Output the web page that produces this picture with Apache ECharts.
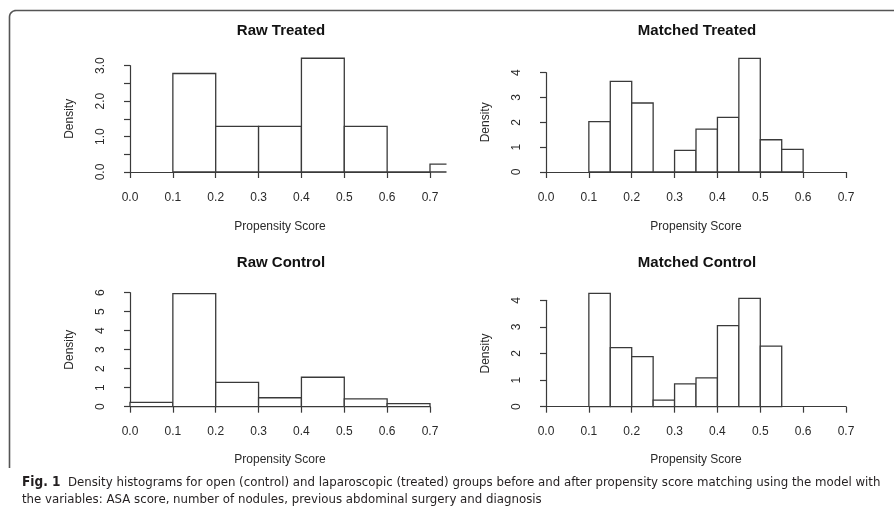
<!DOCTYPE html>
<html>
<head>
<meta charset="utf-8">
<script src="https://cdn.jsdelivr.net/npm/echarts@6/dist/echarts.min.js"></script>
<style>
html,body{margin:0;padding:0;background:#fff;}
#chart{width:894px;height:508px;}
</style>
</head>
<body>
<div id="chart"></div>
<script>
// ---- data ----
const panelTitles = ['Raw Treated', 'Matched Treated', 'Raw Control', 'Matched Control'];
const xAxisName = 'Propensity Score';
const yAxisName = 'Density';
const xTickLabels = ['0.0', '0.1', '0.2', '0.3', '0.4', '0.5', '0.6', '0.7'];

const rawTreatedBreaks = [0.1, 0.2, 0.3, 0.4, 0.5, 0.6, 0.7, 0.8];
const rawTreatedDensity = [2.78, 1.29, 1.29, 3.21, 1.29, 0, 0.22];

const matchedTreatedBreaks = [0.10, 0.15, 0.20, 0.25, 0.30, 0.35, 0.40, 0.45, 0.50, 0.55, 0.60];
const matchedTreatedDensity = [2.03, 3.65, 2.78, 0, 0.87, 1.73, 2.20, 4.58, 1.30, 0.91];

const rawControlBreaks = [0.0, 0.1, 0.2, 0.3, 0.4, 0.5, 0.6, 0.7];
const rawControlDensity = [0.23, 5.95, 1.28, 0.47, 1.55, 0.41, 0.16];

const matchedControlBreaks = [0.10, 0.15, 0.20, 0.25, 0.30, 0.35, 0.40, 0.45, 0.50, 0.55];
const matchedControlDensity = [4.26, 2.22, 1.88, 0.25, 0.86, 1.08, 3.05, 4.07, 2.28];

const rawTreatedYTicks = ['0.0', '', '1.0', '', '2.0', '', '3.0'];
const matchedTreatedYTicks = ['0', '1', '2', '3', '4'];
const rawControlYTicks = ['0', '1', '2', '3', '4', '5', '6'];
const matchedControlYTicks = ['0', '1', '2', '3', '4'];

const captionBold = 'Fig. 1';
const captionLine1 = 'Density histograms for open (control) and laparoscopic (treated) groups before and after propensity score matching using the model with';
const captionLine2 = 'the variables: ASA score, number of nodules, previous abdominal surgery and diagnosis';

// ---- build ----
const panels = [
  {breaks: rawTreatedBreaks, dens: rawTreatedDensity, yTicks: rawTreatedYTicks, yStep: 0.5,
   grid: {left: 130, top: 65.7, width: 300, height: 106.3}, titleY: 30.5, xOff: 4.5, lblMargin: 15, nameGap: 44},
  {breaks: matchedTreatedBreaks, dens: matchedTreatedDensity, yTicks: matchedTreatedYTicks, yStep: 1,
   grid: {left: 546, top: 72.7, width: 300, height: 99.3}, titleY: 30.5, xOff: 4.5, lblMargin: 15, nameGap: 44},
  {breaks: rawControlBreaks, dens: rawControlDensity, yTicks: rawControlYTicks, yStep: 1,
   grid: {left: 130, top: 292.7, width: 300, height: 114}, titleY: 262.5, xOff: 5.2, lblMargin: 14, nameGap: 41.5},
  {breaks: matchedControlBreaks, dens: matchedControlDensity, yTicks: matchedControlYTicks, yStep: 1,
   grid: {left: 546, top: 300.3, width: 300, height: 106.4}, titleY: 262.5, xOff: 5.2, lblMargin: 14, nameGap: 41.5}
];

const FONT = '"Liberation Sans", Arial, Helvetica, sans-serif';
const LINE = '#3a3a3a';
const TEXT = '#2a2a2a';

function renderBar(params, api) {
  const start = api.value(0), end = api.value(1), d = api.value(2);
  const p0 = api.coord([start, 0]);
  const p1 = api.coord([end, d]);
  const cs = params.coordSys;
  const clipX = cs.x + cs.width * 1.055;
  const left = p0[0], bottom = p0[1], top = p1[1];
  const clipped = p1[0] > clipX;
  const right = Math.min(p1[0], clipX);
  const pts = clipped
    ? [[right, bottom], [left, bottom], [left, top], [right, top]]
    : [[left, bottom], [left, top], [right, top], [right, bottom], [left, bottom]];
  return {
    type: 'group',
    children: [
      {type: 'rect', shape: {x: left, y: top, width: right - left, height: bottom - top},
       style: {fill: '#fff'}},
      {type: 'polyline', shape: {points: pts},
       style: {fill: null, stroke: LINE, lineWidth: 1.3}}
    ]
  };
}

const option = {
  backgroundColor: '#fff',
  animation: false,
  grid: [],
  xAxis: [],
  yAxis: [],
  series: [],
  graphic: []
};

panels.forEach((p, i) => {
  option.grid.push(Object.assign({containLabel: false}, p.grid));
  option.graphic.push({
    type: 'text', silent: true,
    x: p.grid.left + p.grid.width / 2 + 1, y: p.titleY,
    style: {text: panelTitles[i], align: 'center', verticalAlign: 'middle',
      font: 'bold 15px ' + FONT, fill: '#111'}
  });
  const ytop = (p.yTicks.length - 1) * p.yStep;
  option.xAxis.push({
    type: 'value', gridIndex: i, min: 0, max: 0.7, interval: 0.1,
    offset: p.xOff,
    splitLine: {show: false},
    axisLine: {show: true, lineStyle: {color: LINE, width: 1.2}},
    axisTick: {show: true, length: 6, lineStyle: {color: LINE, width: 1.2}},
    axisLabel: {show: true, margin: p.lblMargin, fontFamily: FONT, fontSize: 12, color: TEXT,
      formatter: v => xTickLabels[Math.round(v * 10)] || ''},
    name: xAxisName, nameLocation: 'middle', nameGap: p.nameGap,
    nameTextStyle: {fontFamily: FONT, fontSize: 12, color: TEXT}
  });
  option.yAxis.push({
    type: 'value', gridIndex: i, min: 0, max: ytop, interval: p.yStep,
    offset: 13.5,
    splitLine: {show: false},
    axisLine: {show: true, lineStyle: {color: LINE, width: 1.2}},
    axisTick: {show: true, length: 6, lineStyle: {color: LINE, width: 1.2}},
    axisLabel: {show: true, margin: 10, rotate: 90, fontFamily: FONT, fontSize: 12, color: TEXT,
      formatter: v => p.yTicks[Math.round(v / p.yStep)] || ''},
    name: yAxisName, nameLocation: 'middle', nameGap: 41, nameRotate: 90,
    nameTextStyle: {fontFamily: FONT, fontSize: 12, color: TEXT}
  });
  const data = p.dens.map((d, k) => [p.breaks[k], p.breaks[k + 1], d]);
  option.series.push({
    type: 'custom', xAxisIndex: i, yAxisIndex: i, clip: false,
    renderItem: renderBar, data: data, silent: true
  });
});

// frame with rounded top-left corner
const cornerPts = [[9.5, 468], [9.5, 17]];
for (let a = 180; a <= 270; a += 10) {
  const r = a * Math.PI / 180;
  cornerPts.push([16 + 6.5 * Math.cos(r), 17 + 6.5 * Math.sin(r)]);
}
cornerPts.push([894, 10.5]);
option.graphic.push({type: 'polyline', silent: true,
  shape: {points: cornerPts}, style: {fill: null, stroke: '#555', lineWidth: 1.6}});

option.graphic.push({type: 'text', silent: true, x: 22, y: 474,
  style: {
    text: '{b|' + captionBold + '}  ' + captionLine1 + '\n' + captionLine2,
    font: '13.1px "Liberation Sans Narrow", "DejaVu Sans Condensed", sans-serif',
    fill: '#231f20', lineHeight: 17,
    rich: {b: {fontWeight: 'bold', fontSize: 13.5, fontFamily: '"Liberation Sans Narrow", "DejaVu Sans Condensed", sans-serif', fill: '#231f20', lineHeight: 17}}
  }});

const chart = echarts.init(document.getElementById('chart'), null, {renderer: 'canvas'});
chart.setOption(option);
</script>
</body>
</html>
